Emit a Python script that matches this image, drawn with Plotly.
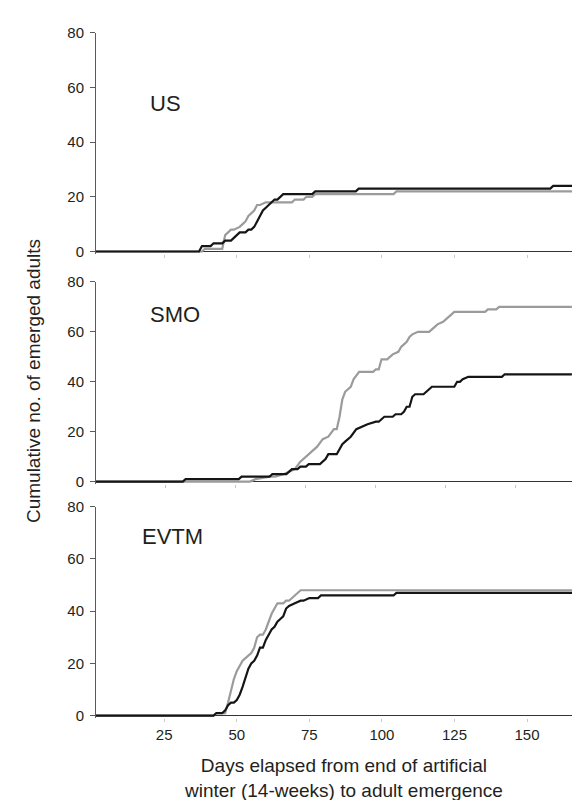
import plotly.graph_objects as go

# ---------------- data (day, cumulative no. of emerged adults) ----------------
panel_names = ["US", "SMO", "EVTM"]
x_tickvals = [25, 50, 75, 100, 125, 150]
y_tickvals = [0, 20, 40, 60, 80]

us_gray_days = [1, 38, 39, 45, 46, 47, 48, 49, 51, 52, 53, 54, 55, 56, 57, 58, 60, 69, 70, 73, 74, 76, 77, 104, 105, 171]
us_gray_vals = [0, 0, 1, 1, 6, 7, 8, 8, 9, 10, 11, 13, 14, 15, 17, 17, 18, 18, 19, 19, 20, 20, 21, 21, 22, 22]
us_black_days = [1, 37, 38, 41, 42, 45, 46, 48, 49, 50, 51, 53, 54, 55, 56, 57, 58, 59, 60, 61, 62, 63, 64, 66, 76, 77, 91, 92, 158, 159, 171]
us_black_vals = [0, 0, 2, 2, 3, 3, 4, 4, 5, 6, 7, 7, 8, 8, 9, 11, 13, 15, 16, 17, 18, 19, 19, 21, 21, 22, 22, 23, 23, 24, 24]

smo_gray_days = [0, 55, 57, 62, 64, 67, 69, 71, 73, 75, 77, 79, 81, 83, 85, 86, 87, 88, 89, 91, 92, 94, 99, 100, 101, 102, 104, 105, 106, 108,
                 109, 110, 111, 112, 113, 115, 119, 120, 122, 124, 126, 128, 139, 140, 143, 144, 170]
smo_gray_vals = [0, 0, 1, 2, 2, 3, 4, 5, 8, 10, 12, 14, 17, 18, 21, 21, 26, 33, 36, 38, 41, 44, 44, 45, 45, 49, 49, 50, 51, 52,
                 54, 55, 56, 58, 59, 60, 60, 61, 63, 64, 66, 68, 68, 69, 69, 70, 70]
smo_black_days = [0, 31, 32, 51, 52, 62, 63, 68, 70, 72, 73, 75, 76, 80, 82, 83, 86, 87, 88, 89, 90, 91, 93, 95, 97, 100, 101, 103, 106, 107,
                  109, 110, 111, 112, 113, 114, 117, 118, 119, 120, 122, 128, 129, 130, 131, 133, 145, 146, 170]
smo_black_vals = [0, 0, 1, 1, 2, 2, 3, 3, 5, 5, 6, 6, 7, 7, 9, 11, 11, 13, 15, 16, 17, 18, 21, 22, 23, 24, 24, 26, 26, 27,
                  27, 28, 30, 30, 34, 35, 35, 36, 37, 38, 38, 38, 40, 40, 41, 42, 42, 43, 43]

evtm_gray_days = [1, 42, 43, 46, 47, 48, 49, 50, 51, 52, 53, 54, 55, 56, 57, 58, 59, 60, 61, 62, 63, 64, 66, 67, 68, 69, 70, 71, 72, 171]
evtm_gray_vals = [0, 0, 1, 1, 5, 10, 14, 17, 19, 21, 22, 23, 24, 26, 30, 31, 31, 33, 36, 39, 41, 43, 43, 44, 44, 45, 46, 47, 48, 48]
evtm_black_days = [1, 42, 43, 45, 46, 47, 48, 49, 50, 51, 52, 53, 54, 55, 56, 57, 58, 59, 60, 61, 62, 63, 64, 65, 66, 67, 68, 70, 72, 73,
                   75, 76, 78, 79, 104, 105, 171]
evtm_black_vals = [0, 0, 1, 1, 2, 4, 5, 5, 6, 8, 11, 15, 18, 20, 21, 23, 26, 26, 29, 31, 33, 34, 36, 37, 38, 41, 42, 43, 44, 44,
                   45, 45, 45, 46, 46, 47, 47]

series = [
    (us_gray_days, us_gray_vals, us_black_days, us_black_vals),
    (smo_gray_days, smo_gray_vals, smo_black_days, smo_black_vals),
    (evtm_gray_days, evtm_gray_vals, evtm_black_days, evtm_black_vals),
]

# ---------------- layout geometry (pixels) ----------------
W, H = 580, 800
FONT = "Liberation Sans, Arial, sans-serif"
TXT = "#231f20"
# (pixel of y=80, pixel of y=0, x-left px, x-right px, x-range)
geom = [
    (16, 239, 88, 580, [1.5, 171]),
    (270, 473.5, 88, 565, [0, 170.4]),
    (499, 712, 88, 580, [1.5, 171]),
]
label_pos = [(140, 88), (140, 303), (132, 529)]
YMIN = -1.0

fig = go.Figure()
layout = dict(
    width=W, height=H,
    margin=dict(l=0, r=0, t=0, b=0),
    paper_bgcolor="white", plot_bgcolor="white",
    showlegend=False,
    font=dict(family=FONT, color=TXT),
)
annotations = []

for i, (gd, gv, bd, bv) in enumerate(series):
    n = "" if i == 0 else str(i + 1)
    xa, ya = "x" + n, "y" + n
    fig.add_trace(go.Scatter(x=gd, y=gv, mode="lines", xaxis=xa, yaxis=ya,
                             line=dict(color="#9b9b9b", width=2.2), hoverinfo="skip"))
    fig.add_trace(go.Scatter(x=bd, y=bv, mode="lines", xaxis=xa, yaxis=ya,
                             line=dict(color="#151515", width=2.2), hoverinfo="skip"))
    p80, p0, xl, xr, xrng = geom[i]
    ppu = (p0 - p80) / 80.0
    pbot = p0 - YMIN * ppu
    layout["xaxis" + n] = dict(
        domain=[xl / W, xr / W], range=xrng, anchor=ya,
        showline=False, showgrid=False, zeroline=False,
        ticks="outside", ticklen=3, tickcolor="#c8c8c8", tickwidth=1,
        tickvals=x_tickvals, showticklabels=(i == 2),
        tickfont=dict(size=15, color=TXT, family=FONT),
    )
    layout["yaxis" + n] = dict(
        domain=[1 - pbot / H, 1 - p80 / H], range=[YMIN, 80], anchor=xa,
        showline=True, linecolor="#5a5a5a", linewidth=1,
        showgrid=False, zeroline=True, zerolinecolor="#333333", zerolinewidth=1,
        ticks="outside", ticklen=5, tickcolor="#5a5a5a", tickwidth=1,
        tickvals=y_tickvals, tickfont=dict(size=15, color=TXT, family=FONT),
        ticklabelstandoff=3,
    )
    lx, ly = label_pos[i]
    annotations.append(dict(text=panel_names[i], x=lx / W, y=1 - ly / H, xref="paper", yref="paper",
                            xanchor="left", yanchor="middle", showarrow=False,
                            font=dict(size=22, color=TXT, family=FONT)))

annotations.append(dict(text="Days elapsed from end of artificial<br>winter (14-weeks) to adult emergence",
                        x=335 / W, y=1 - 775.5 / H, xref="paper", yref="paper",
                        xanchor="center", yanchor="middle", showarrow=False,
                        font=dict(size=19, color=TXT, family=FONT)))
annotations.append(dict(text="Cumulative no. of emerged adults", textangle=-90,
                        x=25 / W, y=1 - 371 / H, xref="paper", yref="paper",
                        xanchor="center", yanchor="middle", showarrow=False,
                        font=dict(size=19, color=TXT, family=FONT)))
layout["annotations"] = annotations
fig.update_layout(**layout)
fig.write_html("out.html")
